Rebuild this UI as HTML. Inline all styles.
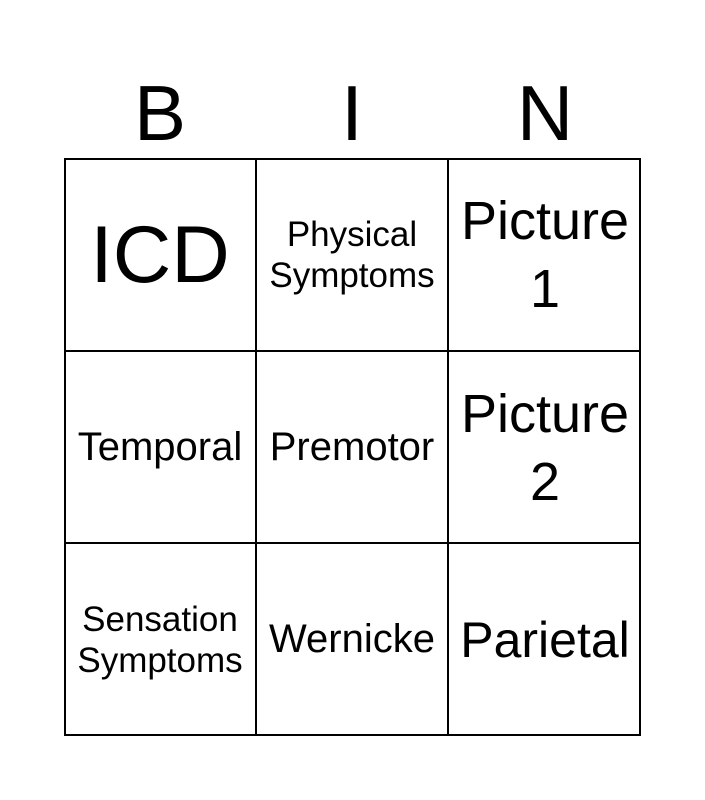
<!DOCTYPE html>
<html><head><style>
body{margin:0;width:705px;height:800px;background:#fff;position:relative;font-family:"Liberation Sans",Arial,sans-serif;overflow:hidden}
.h{position:absolute;top:68px;font-size:78px;line-height:90px;width:192px;text-align:center}
.c{position:absolute;width:192px;height:193px;display:flex;align-items:center;justify-content:center;text-align:center;box-sizing:border-box}
.grid{position:absolute;left:64px;top:158px;width:577px;height:578px;border:2px solid #000;box-sizing:border-box}
.v{position:absolute;top:158px;width:2px;height:578px;background:#000}
.hz{position:absolute;left:64px;width:577px;height:2px;background:#000}
</style></head><body>
<div class="h" style="left:64px">B</div>
<div class="h" style="left:256px">I</div>
<div class="h" style="left:449px">N</div>
<div class="grid"></div>
<div class="v" style="left:255px"></div>
<div class="v" style="left:447px"></div>
<div class="hz" style="top:350px"></div>
<div class="hz" style="top:542px"></div>

<div class="c" style="left:64px;top:158px;font-size:81px;line-height:86px">ICD</div>
<div class="c" style="left:256px;top:158px;font-size:35px;line-height:41px">Physical<br>Symptoms</div>
<div class="c" style="left:449px;top:158px;font-size:54px;line-height:68px">Picture<br>1</div>

<div class="c" style="left:64px;top:351px;font-size:40px">Temporal</div>
<div class="c" style="left:256px;top:351px;font-size:40px">Premotor</div>
<div class="c" style="left:449px;top:351px;font-size:54px;line-height:68px">Picture<br>2</div>

<div class="c" style="left:64px;top:543px;font-size:35px;line-height:41px">Sensation<br>Symptoms</div>
<div class="c" style="left:256px;top:543px;font-size:40px">Wernicke</div>
<div class="c" style="left:449px;top:543px;font-size:50px">Parietal</div>
</body></html>
